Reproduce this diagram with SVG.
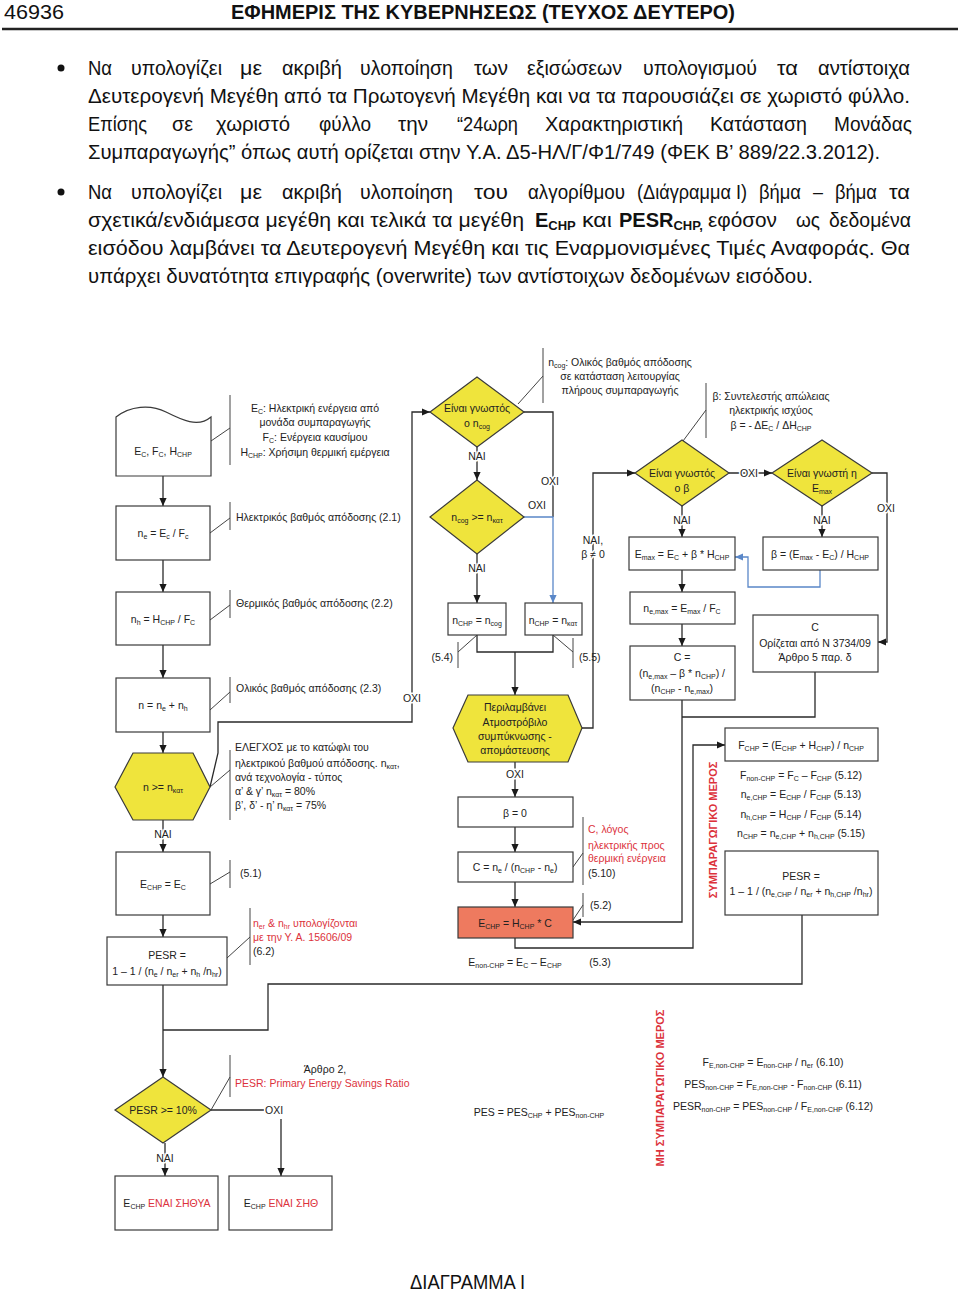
<svg xmlns="http://www.w3.org/2000/svg" width="960" height="1292" viewBox="0 0 960 1292">
<defs>
<style>
text{font-family:"Liberation Sans",Arial,"Noto Sans",sans-serif;fill:#222}
.b{font-size:20px;fill:#111}
.m{font-size:10.5px;text-anchor:middle}
.a{font-size:10.5px}
.s{font-size:7px}
.r{fill:#dc323c}
.lab{font-size:10.5px;text-anchor:middle;stroke:#fff;stroke-width:3px;paint-order:stroke;stroke-linejoin:round}
.box{fill:#fff;stroke:#3a3a3a;stroke-width:1.2}
.yel{fill:#efe43c;stroke:#3a3a3a;stroke-width:1.2}
.sal{fill:#ee7a5f;stroke:#3a3a3a;stroke-width:1.2}
.ln{fill:none;stroke:#2a2a2a;stroke-width:1.3}
.ar{marker-end:url(#ah)}
.bl{fill:none;stroke:#5a87c8;stroke-width:1.3}
.an{fill:none;stroke:#444;stroke-width:1}
.vt{font-size:11px;font-weight:bold;fill:#dc323c;text-anchor:middle}
</style>
<marker id="ah" viewBox="0 0 10 10" refX="10" refY="5" markerWidth="8" markerHeight="8" markerUnits="userSpaceOnUse" orient="auto"><path d="M0,0.5 L10,5 L0,9.5 z" fill="#1a1a1a"/></marker>
<marker id="ahb" viewBox="0 0 10 10" refX="10" refY="5" markerWidth="8" markerHeight="8" markerUnits="userSpaceOnUse" orient="auto"><path d="M0,0.5 L10,5 L0,9.5 z" fill="#5a87c8"/></marker>
</defs>
<rect width="960" height="1292" fill="#fff"/>

<g id="page-header">
<text class="b" x="4" y="19" textLength="60" lengthAdjust="spacingAndGlyphs">46936</text>
<text class="b" x="231" y="19" font-weight="bold" textLength="504" lengthAdjust="spacingAndGlyphs">ΕΦΗΜΕΡΙΣ ΤΗΣ ΚΥΒΕΡΝΗΣΕΩΣ (ΤΕΥΧΟΣ ΔΕΥΤΕΡΟ)</text>
<line x1="2" y1="29" x2="958" y2="29" stroke="#222" stroke-width="2.5"/>
</g>

<g id="body-text">
<circle cx="61" cy="68" r="3.5" fill="#111"/>
<circle cx="61" cy="192" r="3.5" fill="#111"/>
<text class="b" x="88" y="75" textLength="24" lengthAdjust="spacingAndGlyphs">Να</text>
<text class="b" x="131" y="75" textLength="91" lengthAdjust="spacingAndGlyphs">υπολογίζει</text>
<text class="b" x="240" y="75" textLength="22" lengthAdjust="spacingAndGlyphs">με</text>
<text class="b" x="282" y="75" textLength="60" lengthAdjust="spacingAndGlyphs">ακριβή</text>
<text class="b" x="360" y="75" textLength="93" lengthAdjust="spacingAndGlyphs">υλοποίηση</text>
<text class="b" x="474" y="75" textLength="34" lengthAdjust="spacingAndGlyphs">των</text>
<text class="b" x="527" y="75" textLength="95" lengthAdjust="spacingAndGlyphs">εξισώσεων</text>
<text class="b" x="643" y="75" textLength="114" lengthAdjust="spacingAndGlyphs">υπολογισμού</text>
<text class="b" x="777" y="75" textLength="21" lengthAdjust="spacingAndGlyphs">τα</text>
<text class="b" x="818" y="75" textLength="92" lengthAdjust="spacingAndGlyphs">αντίστοιχα</text>
<text class="b" x="88" y="103" textLength="822" lengthAdjust="spacingAndGlyphs">Δευτερογενή Μεγέθη από τα Πρωτογενή Μεγέθη και να τα παρουσιάζει σε χωριστό φύλλο.</text>
<text class="b" x="88" y="131" textLength="59" lengthAdjust="spacingAndGlyphs">Επίσης</text>
<text class="b" x="172" y="131" textLength="21" lengthAdjust="spacingAndGlyphs">σε</text>
<text class="b" x="216" y="131" textLength="74" lengthAdjust="spacingAndGlyphs">χωριστό</text>
<text class="b" x="319" y="131" textLength="52" lengthAdjust="spacingAndGlyphs">φύλλο</text>
<text class="b" x="398" y="131" textLength="30" lengthAdjust="spacingAndGlyphs">την</text>
<text class="b" x="457" y="131" textLength="61" lengthAdjust="spacingAndGlyphs">“24ωρη</text>
<text class="b" x="545" y="131" textLength="138" lengthAdjust="spacingAndGlyphs">Χαρακτηριστική</text>
<text class="b" x="710" y="131" textLength="97" lengthAdjust="spacingAndGlyphs">Κατάσταση</text>
<text class="b" x="834" y="131" textLength="78" lengthAdjust="spacingAndGlyphs">Μονάδας</text>
<text class="b" x="88" y="159" textLength="792" lengthAdjust="spacingAndGlyphs">Συμπαραγωγής” όπως αυτή ορίζεται στην Υ.Α. Δ5-ΗΛ/Γ/Φ1/749 (ΦΕΚ Β’ 889/22.3.2012).</text>
<text class="b" x="88" y="199" textLength="24" lengthAdjust="spacingAndGlyphs">Να</text>
<text class="b" x="131" y="199" textLength="91" lengthAdjust="spacingAndGlyphs">υπολογίζει</text>
<text class="b" x="240" y="199" textLength="22" lengthAdjust="spacingAndGlyphs">με</text>
<text class="b" x="282" y="199" textLength="60" lengthAdjust="spacingAndGlyphs">ακριβή</text>
<text class="b" x="360" y="199" textLength="93" lengthAdjust="spacingAndGlyphs">υλοποίηση</text>
<text class="b" x="474" y="199" textLength="34" lengthAdjust="spacingAndGlyphs">του</text>
<text class="b" x="528" y="199" textLength="97" lengthAdjust="spacingAndGlyphs">αλγορίθμου</text>
<text class="b" x="637" y="199" textLength="110" lengthAdjust="spacingAndGlyphs">(Διάγραμμα Ι)</text>
<text class="b" x="759" y="199" textLength="42" lengthAdjust="spacingAndGlyphs">βήμα</text>
<text class="b" x="813" y="199" textLength="10" lengthAdjust="spacingAndGlyphs">–</text>
<text class="b" x="835" y="199" textLength="42" lengthAdjust="spacingAndGlyphs">βήμα</text>
<text class="b" x="889" y="199" textLength="21" lengthAdjust="spacingAndGlyphs">τα</text>
<text class="b" x="88" y="227" textLength="436" lengthAdjust="spacingAndGlyphs">σχετικά/ενδιάμεσα μεγέθη και τελικά τα μεγέθη</text>
<text class="b" x="535" y="227" font-weight="bold">E<tspan font-size="13" dy="3">CHP</tspan></text>
<text class="b" x="582" y="227" textLength="30" lengthAdjust="spacingAndGlyphs">και</text>
<text class="b" x="619" y="227" font-weight="bold">PESR<tspan font-size="13" dy="3">CHP,</tspan></text>
<text class="b" x="708" y="227" textLength="69" lengthAdjust="spacingAndGlyphs">εφόσον</text>
<text class="b" x="796" y="227" textLength="24" lengthAdjust="spacingAndGlyphs">ως</text>
<text class="b" x="829" y="227" textLength="82" lengthAdjust="spacingAndGlyphs">δεδομένα</text>
<text class="b" x="88" y="255" textLength="822" lengthAdjust="spacingAndGlyphs">εισόδου λαμβάνει τα Δευτερογενή Μεγέθη και τις Εναρμονισμένες Τιμές Αναφοράς. Θα</text>
<text class="b" x="88" y="283" textLength="725" lengthAdjust="spacingAndGlyphs">υπάρχει δυνατότητα επιγραφής (overwrite) των αντίστοιχων δεδομένων εισόδου.</text>
</g>

<g id="connectors">
<path class="ln ar" d="M163,476 V506"/>
<path class="ln ar" d="M163,560 V592"/>
<path class="ln ar" d="M163,645 V678"/>
<path class="ln ar" d="M163,732 V753"/>
<path class="ln ar" d="M163,820 V852"/>
<path class="ln ar" d="M163,915 V937"/>
<path class="ln ar" d="M163,985 V1077"/>
<path class="ln" d="M802,915 V984 H268 V1030 H163"/>
<path class="ln ar" d="M165,1143 V1176"/>
<path class="ln" d="M211,1110 H264"/>
<path class="ln ar" d="M281,1119 V1176"/>
<path class="ln ar" d="M210,787 L218,753 V722 H412 V412 H430"/>
<path class="ln ar" d="M477,447 V480"/>
<path class="ln ar" d="M477,554 V603"/>
<path class="ln" d="M524,412 H553 V517"/>
<path class="bl" marker-end="url(#ahb)" d="M524,517 H553 V603"/>
<path class="ln" d="M477,635 V652 H553 V635"/>
<path class="ln ar" d="M515,652 V695"/>
<path class="ln ar" d="M582,728 H593 V473 H635"/>
<path class="ln ar" d="M515,762 V797"/>
<path class="ln ar" d="M515,827 V852"/>
<path class="ln ar" d="M515,882 V907"/>
<path class="ln ar" d="M515,938 V948 H693 V745 H725"/>
<path class="ln ar" d="M729,473 H772"/>
<path class="ln ar" d="M872,473 H887 V642 H878"/>
<path class="ln ar" d="M682,506 V537"/>
<path class="ln ar" d="M822,506 V537"/>
<path class="bl" marker-end="url(#ahb)" d="M820,570 V587 H748 V557 H735"/>
<path class="ln ar" d="M682,570 V592"/>
<path class="ln ar" d="M682,624 V646"/>
<path class="ln" d="M815,672 V717 H682"/>
<path class="ln ar" d="M682,700 V922 H573"/>
<text class="lab" x="163" y="838">NAI</text>
<text class="lab" x="477" y="460">NAI</text>
<text class="lab" x="477" y="572">NAI</text>
<text class="lab" x="550" y="485">OXI</text>
<text class="lab" x="537" y="509">OXI</text>
<text class="lab" x="412" y="702">OXI</text>
<text class="lab" x="593" y="544">NAI,</text>
<text class="lab" x="593" y="558">β ≠ 0</text>
<text class="lab" x="515" y="778">OXI</text>
<text class="lab" x="749" y="477">OXI</text>
<text class="lab" x="886" y="512">OXI</text>
<text class="lab" x="682" y="524">NAI</text>
<text class="lab" x="822" y="524">NAI</text>
<text class="lab" x="165" y="1162">NAI</text>
<text class="lab" x="265" y="1114" style="text-anchor:start">OXI</text>
</g>

<g id="annotations">
<path class="an" d="M230,395 V465 M211,441 L230,428"/>
<text class="m" x="315" y="412">E<tspan class="s" dy="2">C</tspan><tspan dy="-2">: Ηλεκτρική ενέργεια από</tspan></text>
<text class="m" x="315" y="426">μονάδα συμπαραγωγής</text>
<text class="m" x="315" y="441">F<tspan class="s" dy="2">C</tspan><tspan dy="-2">: Ενέργεια καυσίμου</tspan></text>
<text class="m" x="315" y="456">H<tspan class="s" dy="2">CHP</tspan><tspan dy="-2">: Χρήσιμη θερμική εμέργεια</tspan></text>
<path class="an" d="M230,502 V530 M210,533 L230,518"/>
<text class="a" x="236" y="521">Ηλεκτρικός βαθμός απόδοσης (2.1)</text>
<path class="an" d="M230,590 V618 M210,620 L230,605"/>
<text class="a" x="236" y="607">Θερμικός βαθμός απόδοσης (2.2)</text>
<path class="an" d="M230,677 V703 M210,710 L230,692"/>
<text class="a" x="236" y="692">Ολικός βαθμός απόδοσης (2.3)</text>
<path class="an" d="M230,750 V820 M210,787 L230,770"/>
<text class="a" x="235" y="751">ΕΛΕΓΧΟΣ με το κατώφλι του</text>
<text class="a" x="235" y="767">ηλεκτρικού βαθμού απόδοσης. n<tspan class="s" dy="2">κατ</tspan><tspan dy="-2">,</tspan></text>
<text class="a" x="235" y="781">ανά τεχνολογία - τύπος</text>
<text class="a" x="235" y="795">α’ &amp; γ’ n<tspan class="s" dy="2">κατ</tspan><tspan dy="-2"> = 80%</tspan></text>
<text class="a" x="235" y="809">β’, δ’ - η’ n<tspan class="s" dy="2">κατ</tspan><tspan dy="-2"> = 75%</tspan></text>
<path class="an" d="M230,860 V888 M210,884 L230,872"/>
<text class="a" x="240" y="877">(5.1)</text>
<path class="an" d="M250,908 V965 M227,958 L250,937"/>
<text class="a r" x="253" y="927">n<tspan class="s" dy="2">er</tspan><tspan dy="-2"> &amp; n</tspan><tspan class="s" dy="2">hr</tspan><tspan dy="-2"> υπολογίζονται</tspan></text>
<text class="a r" x="253" y="941">με την Υ. Α. 15606/09</text>
<text class="a" x="253" y="955">(6.2)</text>
<path class="an" d="M230,1055 V1097 M211,1110 L230,1077"/>
<text class="m" x="325" y="1073">Άρθρο 2,</text>
<text class="a r" x="235" y="1087">PESR: Primary Energy Savings Ratio</text>
<path class="an" d="M543,348 V403 M518,404 L543,376"/>
<text class="m" x="620" y="366">n<tspan class="s" dy="2">cog</tspan><tspan dy="-2">: Ολικός βαθμός απόδοσης</tspan></text>
<text class="m" x="620" y="380">σε κατάσταση λειτουργίας</text>
<text class="m" x="620" y="394">πλήρους συμπαραγωγής</text>
<path class="an" d="M706,383 V438 M683,441 L706,410"/>
<text class="m" x="771" y="400">β: Συντελεστής απώλειας</text>
<text class="m" x="771" y="414">ηλεκτρικής ισχύος</text>
<text class="m" x="771" y="429">β = - ΔE<tspan class="s" dy="2">C</tspan><tspan dy="-2"> / ΔH</tspan><tspan class="s" dy="2">CHP</tspan></text>
<path class="an" d="M458,642 V668 M477,635 L458,652"/>
<text class="a" x="453" y="661" style="text-anchor:end">(5.4)</text>
<path class="an" d="M573,638 V668 M553,635 L573,652"/>
<text class="a" x="579" y="661">(5.5)</text>
<path class="an" d="M583,817 V885 M573,867 L583,853"/>
<text class="a r" x="588" y="833">C, λόγος</text>
<text class="a r" x="588" y="849">ηλεκτρικής προς</text>
<text class="a r" x="588" y="862">θερμική ενέργεια</text>
<text class="a" x="588" y="877">(5.10)</text>
<path class="an" d="M583,893 V917 M573,920 L583,905"/>
<text class="a" x="590" y="909">(5.2)</text>
<text class="m" x="515" y="966">E<tspan class="s" dy="2">non-CHP</tspan><tspan dy="-2"> = E</tspan><tspan class="s" dy="2">C</tspan><tspan dy="-2"> – E</tspan><tspan class="s" dy="2">CHP</tspan></text>
<text class="m" x="600" y="966">(5.3)</text>
<text class="m" x="801" y="779">F<tspan class="s" dy="2">non-CHP</tspan><tspan dy="-2"> = F</tspan><tspan class="s" dy="2">C</tspan><tspan dy="-2"> – F</tspan><tspan class="s" dy="2">CHP</tspan><tspan dy="-2"> (5.12)</tspan></text>
<text class="m" x="801" y="798">n<tspan class="s" dy="2">e,CHP</tspan><tspan dy="-2"> = E</tspan><tspan class="s" dy="2">CHP</tspan><tspan dy="-2"> / F</tspan><tspan class="s" dy="2">CHP</tspan><tspan dy="-2"> (5.13)</tspan></text>
<text class="m" x="801" y="818">n<tspan class="s" dy="2">h,CHP</tspan><tspan dy="-2"> = H</tspan><tspan class="s" dy="2">CHP</tspan><tspan dy="-2"> / F</tspan><tspan class="s" dy="2">CHP</tspan><tspan dy="-2"> (5.14)</tspan></text>
<text class="m" x="801" y="837">n<tspan class="s" dy="2">CHP</tspan><tspan dy="-2"> = n</tspan><tspan class="s" dy="2">e,CHP</tspan><tspan dy="-2"> + n</tspan><tspan class="s" dy="2">h,CHP</tspan><tspan dy="-2"> (5.15)</tspan></text>
<text class="vt" transform="translate(717,830) rotate(-90)">ΣΥΜΠΑΡΑΓΩΓΙΚΟ ΜΕΡΟΣ</text>
<text class="m" x="539" y="1116">PES = PES<tspan class="s" dy="2">CHP</tspan><tspan dy="-2"> + PES</tspan><tspan class="s" dy="2">non-CHP</tspan></text>
<text class="vt" transform="translate(664,1088) rotate(-90)">ΜΗ ΣΥΜΠΑΡΑΓΩΓΙΚΟ ΜΕΡΟΣ</text>
<text class="m" x="773" y="1066">F<tspan class="s" dy="2">E,non-CHP</tspan><tspan dy="-2"> = E</tspan><tspan class="s" dy="2">non-CHP</tspan><tspan dy="-2"> / n</tspan><tspan class="s" dy="2">er</tspan><tspan dy="-2"> (6.10)</tspan></text>
<text class="m" x="773" y="1088">PES<tspan class="s" dy="2">non-CHP</tspan><tspan dy="-2"> = F</tspan><tspan class="s" dy="2">E,non-CHP</tspan><tspan dy="-2"> -  F</tspan><tspan class="s" dy="2">non-CHP</tspan><tspan dy="-2"> (6.11)</tspan></text>
<text class="m" x="773" y="1110">PESR<tspan class="s" dy="2">non-CHP</tspan><tspan dy="-2"> = PES</tspan><tspan class="s" dy="2">non-CHP</tspan><tspan dy="-2"> / F</tspan><tspan class="s" dy="2">E,non-CHP</tspan><tspan dy="-2"> (6.12)</tspan></text>
</g>

<g id="n-input">
<path class="box" d="M116,417 C130,406 150,404 166,412 C182,420 198,428 211,417 L211,476 L116,476 Z"/>
<text class="m" x="163" y="455">E<tspan class="s" dy="2">C</tspan><tspan dy="-2">, F</tspan><tspan class="s" dy="2">C</tspan><tspan dy="-2">, H</tspan><tspan class="s" dy="2">CHP</tspan></text>
</g>
<g id="n-ne">
<rect class="box" x="116" y="506" width="94" height="54"/>
<text class="m" x="163" y="537">n<tspan class="s" dy="2">e</tspan><tspan dy="-2"> = E</tspan><tspan class="s" dy="2">c</tspan><tspan dy="-2"> / F</tspan><tspan class="s" dy="2">c</tspan></text>
</g>
<g id="n-nh">
<rect class="box" x="116" y="592" width="94" height="53"/>
<text class="m" x="163" y="623">n<tspan class="s" dy="2">h</tspan><tspan dy="-2"> = H</tspan><tspan class="s" dy="2">CHP</tspan><tspan dy="-2"> / F</tspan><tspan class="s" dy="2">C</tspan></text>
</g>
<g id="n-n">
<rect class="box" x="116" y="678" width="94" height="54"/>
<text class="m" x="163" y="709">n = n<tspan class="s" dy="2">e</tspan><tspan dy="-2"> + n</tspan><tspan class="s" dy="2">h</tspan></text>
</g>
<g id="n-check-n">
<path class="yel" d="M115,787 L133,753 L193,753 L210,787 L193,820 L133,820 Z"/>
<text class="m" x="163" y="791">n &gt;= n<tspan class="s" dy="2">κατ</tspan></text>
</g>
<g id="n-echp-ec">
<rect class="box" x="116" y="852" width="94" height="63"/>
<text class="m" x="163" y="888">E<tspan class="s" dy="2">CHP</tspan><tspan dy="-2"> = E</tspan><tspan class="s" dy="2">C</tspan></text>
</g>
<g id="n-pesr1">
<rect class="box" x="107" y="937" width="120" height="48"/>
<text class="m" x="167" y="959">PESR =</text>
<text class="m" x="167" y="975">1 – 1 / (n<tspan class="s" dy="2">e</tspan><tspan dy="-2"> / n</tspan><tspan class="s" dy="2">er</tspan><tspan dy="-2"> + n</tspan><tspan class="s" dy="2">h</tspan><tspan dy="-2"> /n</tspan><tspan class="s" dy="2">hr</tspan><tspan dy="-2">)</tspan></text>
</g>
<g id="n-pesr-check">
<path class="yel" d="M115,1110 L163,1077 L211,1110 L163,1143 Z"/>
<text class="m" x="163" y="1114">PESR &gt;= 10%</text>
</g>
<g id="n-shthya">
<rect class="box" x="115" y="1176" width="103" height="54"/>
<text class="m" x="167" y="1207">E<tspan class="s" dy="2">CHP</tspan><tspan dy="-2" class="r"> ΕΝΑΙ ΣΗΘΥΑ</tspan></text>
</g>
<g id="n-shth">
<rect class="box" x="229" y="1176" width="103" height="54"/>
<text class="m" x="281" y="1207">E<tspan class="s" dy="2">CHP</tspan><tspan dy="-2" class="r"> ΕΝΑΙ ΣΗΘ</tspan></text>
</g>
<g id="n-known-ncog">
<path class="yel" d="M430,412 L477,377 L524,412 L477,447 Z"/>
<text class="m" x="477" y="412">Είναι γνωστός</text>
<text class="m" x="477" y="427">ο n<tspan class="s" dy="2">cog</tspan></text>
</g>
<g id="n-ncog-check">
<path class="yel" d="M430,517 L477,480 L524,517 L477,554 Z"/>
<text class="m" x="477" y="521">n<tspan class="s" dy="2">cog</tspan><tspan dy="-2"> &gt;= n</tspan><tspan class="s" dy="2">κατ</tspan></text>
</g>
<g id="n-nchp-cog">
<rect class="box" x="448" y="603" width="58" height="32"/>
<text class="m" x="477" y="624">n<tspan class="s" dy="2">CHP</tspan><tspan dy="-2"> = n</tspan><tspan class="s" dy="2">cog</tspan></text>
</g>
<g id="n-nchp-kat">
<rect class="box" x="525" y="603" width="57" height="32"/>
<text class="m" x="553" y="624">n<tspan class="s" dy="2">CHP</tspan><tspan dy="-2"> = n</tspan><tspan class="s" dy="2">κατ</tspan></text>
</g>
<g id="n-turbine">
<path class="yel" d="M453,728 L468,695 L568,695 L582,728 L568,762 L468,762 Z"/>
<text class="m" x="515" y="711">Περιλαμβάνει</text>
<text class="m" x="515" y="726">Ατμοστρόβιλο</text>
<text class="m" x="515" y="740">συμπύκνωσης -</text>
<text class="m" x="515" y="754">απομάστευσης</text>
</g>
<g id="n-beta0">
<rect class="box" x="458" y="797" width="115" height="30"/>
<text class="m" x="515" y="817">β = 0</text>
</g>
<g id="n-c1">
<rect class="box" x="458" y="852" width="115" height="30"/>
<text class="m" x="515" y="871">C = n<tspan class="s" dy="2">e</tspan><tspan dy="-2"> / (n</tspan><tspan class="s" dy="2">CHP</tspan><tspan dy="-2"> - n</tspan><tspan class="s" dy="2">e</tspan><tspan dy="-2">)</tspan></text>
</g>
<g id="n-echp">
<rect class="sal" x="458" y="907" width="115" height="31"/>
<text class="m" x="515" y="927">E<tspan class="s" dy="2">CHP</tspan><tspan dy="-2"> = H</tspan><tspan class="s" dy="2">CHP</tspan><tspan dy="-2"> * C</tspan></text>
</g>
<g id="n-known-beta">
<path class="yel" d="M635,473 L682,440 L729,473 L682,506 Z"/>
<text class="m" x="682" y="477">Είναι γνωστός</text>
<text class="m" x="682" y="492">ο β</text>
</g>
<g id="n-known-emax">
<path class="yel" d="M772,473 L822,440 L872,473 L822,506 Z"/>
<text class="m" x="822" y="477">Είναι γνωστή η</text>
<text class="m" x="822" y="492">E<tspan class="s" dy="2">max</tspan></text>
</g>
<g id="n-emax">
<rect class="box" x="629" y="537" width="106" height="33"/>
<text class="m" x="682" y="558">E<tspan class="s" dy="2">max</tspan><tspan dy="-2"> = E</tspan><tspan class="s" dy="2">C</tspan><tspan dy="-2"> + β * H</tspan><tspan class="s" dy="2">CHP</tspan></text>
</g>
<g id="n-beta">
<rect class="box" x="763" y="537" width="115" height="33"/>
<text class="m" x="820" y="558">β = (E<tspan class="s" dy="2">max</tspan><tspan dy="-2"> - E</tspan><tspan class="s" dy="2">C</tspan><tspan dy="-2">) / H</tspan><tspan class="s" dy="2">CHP</tspan></text>
</g>
<g id="n-nemax">
<rect class="box" x="630" y="592" width="105" height="32"/>
<text class="m" x="682" y="612">n<tspan class="s" dy="2">e,max</tspan><tspan dy="-2"> = E</tspan><tspan class="s" dy="2">max</tspan><tspan dy="-2"> / F</tspan><tspan class="s" dy="2">C</tspan></text>
</g>
<g id="n-c2">
<rect class="box" x="630" y="646" width="105" height="54"/>
<text class="m" x="682" y="661">C =</text>
<text class="m" x="682" y="677">(n<tspan class="s" dy="2">e,max</tspan><tspan dy="-2"> – β * n</tspan><tspan class="s" dy="2">CHP</tspan><tspan dy="-2">) /</tspan></text>
<text class="m" x="682" y="692">(n<tspan class="s" dy="2">CHP</tspan><tspan dy="-2"> - n</tspan><tspan class="s" dy="2">e,max</tspan><tspan dy="-2">)</tspan></text>
</g>
<g id="n-c3">
<rect class="box" x="753" y="615" width="125" height="57"/>
<text class="m" x="815" y="631">C</text>
<text class="m" x="815" y="647">Ορίζεται από Ν 3734/09</text>
<text class="m" x="815" y="661">Άρθρο 5 παρ. δ</text>
</g>
<g id="n-fchp">
<rect class="box" x="725" y="728" width="153" height="33"/>
<text class="m" x="801" y="749">F<tspan class="s" dy="2">CHP</tspan><tspan dy="-2"> = (E</tspan><tspan class="s" dy="2">CHP</tspan><tspan dy="-2"> + H</tspan><tspan class="s" dy="2">CHP</tspan><tspan dy="-2">) / n</tspan><tspan class="s" dy="2">CHP</tspan></text>
</g>
<g id="n-pesr2">
<rect class="box" x="725" y="851" width="153" height="64"/>
<text class="m" x="801" y="880">PESR =</text>
<text class="m" x="801" y="895">1 – 1 / (n<tspan class="s" dy="2">e,CHP</tspan><tspan dy="-2"> / n</tspan><tspan class="s" dy="2">er</tspan><tspan dy="-2"> + n</tspan><tspan class="s" dy="2">h,CHP</tspan><tspan dy="-2"> /n</tspan><tspan class="s" dy="2">hr</tspan><tspan dy="-2">)</tspan></text>
</g>

<g id="caption">
<text class="b" x="410" y="1289" textLength="115" lengthAdjust="spacingAndGlyphs">ΔΙΑΓΡΑΜΜΑ Ι</text>
</g>
</svg>
